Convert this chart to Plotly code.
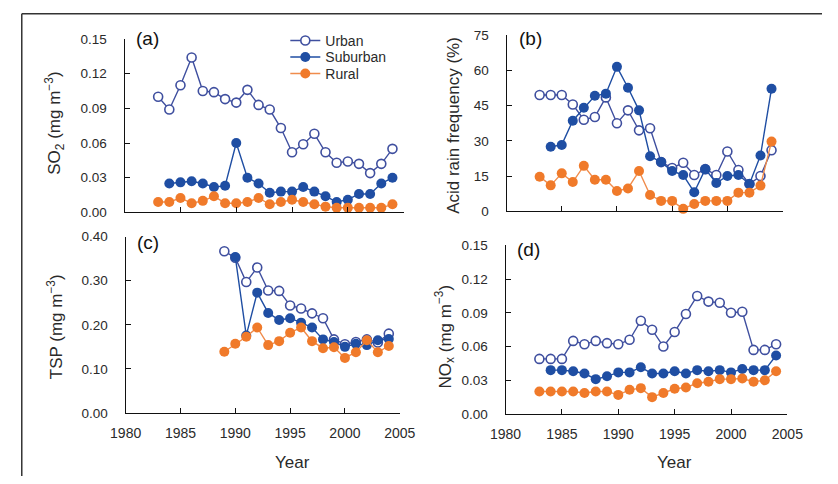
import plotly.graph_objects as go

W, H = 838, 484

# ---------------- data ----------------
years_a_urban = list(range(1983, 2005))
so2_urban = [0.100, 0.089, 0.110, 0.134, 0.105, 0.104, 0.098, 0.095, 0.106, 0.093, 0.089,
             0.073, 0.052, 0.059, 0.068, 0.052, 0.043, 0.044, 0.042, 0.034, 0.042, 0.055]
years_a_sub = list(range(1984, 2005))
so2_suburban = [0.025, 0.026, 0.027, 0.025, 0.022, 0.023, 0.060, 0.030, 0.025, 0.017, 0.018,
                0.018, 0.022, 0.018, 0.014, 0.009, 0.011, 0.016, 0.016, 0.025, 0.030]
years_a_rural = list(range(1983, 2005))
so2_rural = [0.009, 0.009, 0.0125, 0.008, 0.010, 0.014, 0.008, 0.008, 0.009, 0.0125, 0.007,
             0.009, 0.011, 0.009, 0.007, 0.005, 0.004, 0.004, 0.004, 0.004, 0.004, 0.007]

years_b_urban = list(range(1983, 2005))
acid_urban = [49.5, 49.5, 49.5, 45.5, 39, 40.2, 48.5, 37.5, 43, 34.5, 35.4,
              21, 18.5, 20.7, 15.5, 18, 15.5, 25.5, 17.6, 11.7, 15.1, 26]
years_b_sub = list(range(1984, 2005))
acid_suburban = [27.5, 28.3, 38.6, 44.1, 49.2, 50.1, 61.5, 52.6, 43, 23.5, 21,
                 17.2, 15.5, 8.2, 18, 12.1, 15.1, 15.5, 11.7, 23.8, 52.2]
years_b_rural = list(range(1983, 2005))
acid_rural = [14.8, 11.1, 16.2, 12.5, 19.4, 13.5, 13.5, 8.7, 9.8, 17.2, 7,
              4.5, 4.5, 1.1, 3.2, 4.5, 4.5, 4.5, 8, 8, 11, 29.7]

years_c_urban = list(range(1989, 2005))
tsp_urban = [0.367, 0.352, 0.297, 0.330, 0.278, 0.277, 0.244, 0.237, 0.226, 0.215,
             0.167, 0.156, 0.161, 0.167, 0.160, 0.180]
years_c_sub = list(range(1990, 2005))
tsp_suburban = [0.354, 0.176, 0.273, 0.227, 0.211, 0.215, 0.205, 0.194, 0.167, 0.161,
                0.150, 0.157, 0.154, 0.165, 0.168]
years_c_rural = list(range(1989, 2005))
tsp_rural = [0.139, 0.157, 0.173, 0.194, 0.154, 0.163, 0.182, 0.194, 0.163, 0.147,
             0.149, 0.125, 0.138, 0.165, 0.138, 0.152]

years_d_urban = list(range(1983, 2005))
nox_urban = [0.049, 0.049, 0.049, 0.065, 0.062, 0.065, 0.063, 0.062, 0.066, 0.083, 0.075,
             0.060, 0.073, 0.089, 0.105, 0.100, 0.099, 0.090, 0.091, 0.057, 0.057, 0.062]
years_d_sub = list(range(1984, 2005))
nox_suburban = [0.039, 0.039, 0.038, 0.036, 0.031, 0.0335, 0.037, 0.037, 0.0415, 0.036, 0.036,
                0.038, 0.036, 0.039, 0.038, 0.039, 0.037, 0.040, 0.039, 0.039, 0.052]
years_d_rural = list(range(1983, 2005))
nox_rural = [0.020, 0.020, 0.020, 0.020, 0.0187, 0.020, 0.020, 0.017, 0.0215, 0.023, 0.015,
             0.0187, 0.0224, 0.0236, 0.0273, 0.0287, 0.031, 0.031, 0.0316, 0.0287, 0.030, 0.038]

series_names = ["Urban", "Suburban", "Rural"]
panel_labels = ["(a)", "(b)", "(c)", "(d)"]
x_ticks = [1980, 1985, 1990, 1995, 2000, 2005]

# ---------------- style ----------------
FONT = "Liberation Sans, Arial, Helvetica, sans-serif"
TXT = "#2a2a2a"
URBAN = "#3f4f9f"
SUB = "#1f4ea3"
RURAL = "#f07a2a"
RURAL_LINE = "#f08c4c"


def px(x):
    return x / W


def py(y):
    return 1 - y / H


fig = go.Figure()

panels = [
    (years_a_urban, so2_urban, years_a_sub, so2_suburban, years_a_rural, so2_rural),
    (years_b_urban, acid_urban, years_b_sub, acid_suburban, years_b_rural, acid_rural),
    (years_c_urban, tsp_urban, years_c_sub, tsp_suburban, years_c_rural, tsp_rural),
    (years_d_urban, nox_urban, years_d_sub, nox_suburban, years_d_rural, nox_rural),
]

for i, (xu, yu, xs, ys, xr, yr) in enumerate(panels):
    ax = "" if i == 0 else str(i + 1)
    show = i == 0
    fig.add_trace(go.Scatter(
        x=xu, y=yu, mode="lines+markers", name=series_names[0], legendgroup="u",
        legend="legend", showlegend=show, xaxis="x" + ax, yaxis="y" + ax, cliponaxis=False,
        line=dict(color=URBAN, width=1.4),
        marker=dict(symbol="circle", size=9, color="white", line=dict(color=URBAN, width=1.6)),
    ))
    fig.add_trace(go.Scatter(
        x=xs, y=ys, mode="lines+markers", name=series_names[1], legendgroup="s",
        legend="legend2", showlegend=show, xaxis="x" + ax, yaxis="y" + ax, cliponaxis=False,
        line=dict(color=SUB, width=1.4),
        marker=dict(symbol="circle", size=10, color=SUB, line=dict(color=SUB, width=0)),
    ))
    fig.add_trace(go.Scatter(
        x=xr, y=yr, mode="lines+markers", name=series_names[2], legendgroup="r",
        legend="legend3", showlegend=show, xaxis="x" + ax, yaxis="y" + ax, cliponaxis=False,
        line=dict(color=RURAL_LINE, width=1.4),
        marker=dict(symbol="circle", size=10, color=RURAL, line=dict(color=RURAL, width=0)),
    ))

common_x = dict(range=[1980, 2005], tickvals=x_ticks, showline=True, linecolor="#111",
                linewidth=1.2, ticks="inside", ticklen=5, tickcolor="#111", tickwidth=1.2,
                showgrid=False, zeroline=False,
                tickfont=dict(family=FONT, size=14, color=TXT), ticklabelstandoff=7)
common_y = dict(showline=True, linecolor="#111", linewidth=1.2, ticks="inside", ticklen=5,
                tickcolor="#111", tickwidth=1.2, showgrid=False, zeroline=False,
                tickfont=dict(family=FONT, size=13.5, color=TXT), ticklabelstandoff=14)

leg_common = dict(xanchor="left", yanchor="middle", bgcolor="rgba(0,0,0,0)",
                  font=dict(family=FONT, size=14, color=TXT), itemwidth=30)

fig.update_layout(
    width=W, height=H, margin=dict(l=0, r=0, t=0, b=0),
    paper_bgcolor="white", plot_bgcolor="white",
    font=dict(family=FONT, color=TXT),
    xaxis=dict(domain=[px(113), px(403)], anchor="y", showticklabels=False, **common_x),
    yaxis=dict(domain=[py(212), py(33)], anchor="x", range=[0, 0.15], dtick=0.03,
               tickformat=".2f", **common_y),
    xaxis2=dict(domain=[px(510), px(797)], anchor="y2", showticklabels=False, **common_x),
    yaxis2=dict(domain=[py(211), py(29)], anchor="x2", range=[0, 75], dtick=15, **common_y),
    xaxis3=dict(domain=[px(114), px(399)], anchor="y3", **common_x),
    yaxis3=dict(domain=[py(419), py(237)], anchor="x3", range=[0, 0.4], dtick=0.1,
                tickformat=".2f", **common_y),
    xaxis4=dict(domain=[px(509), px(802)], anchor="y4", **common_x),
    yaxis4=dict(domain=[py(420), py(246)], anchor="x4", range=[0, 0.15], dtick=0.03,
                tickformat=".2f", **common_y),
    legend=dict(x=px(280), y=py(35), **leg_common),
    legend2=dict(x=px(280), y=py(52), **leg_common),
    legend3=dict(x=px(280), y=py(69), **leg_common),
    showlegend=True,
)

ann = []
# y-axis titles
ytitles = [
    ("SO<sub>2</sub> (mg m<sup>−3</sup>)", 40, 120),
    ("Acid rain frequency (%)", 455, 122),
    ("TSP (mg m<sup>−3</sup>)", 40, 330),
    ("NO<sub>x</sub> (mg m<sup>−3</sup>)", 446, 340),
]
for t, x, y in ytitles:
    ann.append(dict(text=t, x=px(x), y=py(y), xref="paper", yref="paper", textangle=-90,
                    showarrow=False, xanchor="center", yanchor="middle",
                    font=dict(family=FONT, size=17, color=TXT)))
# x-axis titles
for x in (287, 685):
    ann.append(dict(text="Year", x=px(x), y=py(470), xref="paper", yref="paper",
                    showarrow=False, xanchor="center", yanchor="middle",
                    font=dict(family=FONT, size=17, color=TXT)))
# panel labels
for lab, x, y in zip(panel_labels, [137, 535, 137, 533], [33, 33, 243, 250]):
    ann.append(dict(text=lab, x=px(x), y=py(y), xref="paper", yref="paper",
                    showarrow=False, xanchor="center", yanchor="middle",
                    font=dict(family=FONT, size=19, color="#111")))
fig.update_layout(annotations=ann)

# thin frame lines (top and left)
fig.update_layout(shapes=[
    dict(type="line", xref="paper", yref="paper", x0=px(6), x1=1, y0=py(7), y1=py(7),
         line=dict(color="#333", width=1.5)),
    dict(type="line", xref="paper", yref="paper", x0=px(6), x1=px(6), y0=0, y1=py(7),
         line=dict(color="#333", width=1.5)),
])

fig.write_html("out.html")
